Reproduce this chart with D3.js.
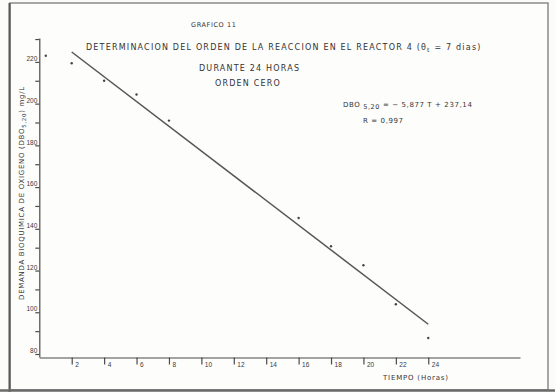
<!DOCTYPE html>
<html>
  <head>
    <meta charset="utf-8">
    <title>Grafico 11</title>
    <script src="https://d3js.org/d3.v7.min.js"></script>
    <style>
      body { margin: 0; background: #fbfbf9; }
      svg { display: block; font-family: "DejaVu Sans", sans-serif; }
      .axis path, .axis line { stroke: #4a4a4a; stroke-width: 1.2; }
      .axis text { fill: #3a3a3a; font-size: 6.5px; }
      .lbl { fill: #333; font-size: 8px; letter-spacing: 1.2px; }
    </style>
  </head>
  <body>
    <svg id="chart" width="555" height="392"></svg>
    <script>
      // data
      var hours = [0.4, 2, 4, 6, 8, 16, 18, 20, 22, 24];
      var dbo = [222, 218.4, 210, 203.4, 190.9, 144.2, 130.7, 121.6, 102.9, 86.7];
      // fitted line as drawn (endpoints)
      var lineHours = [2, 24];
      var lineDbo = [223.8, 93.3];
      var xTicks = [2, 4, 6, 8, 10, 12, 14, 16, 18, 20, 22, 24];
      var yTicks = [80, 90, 100, 110, 120, 130, 140, 150, 160, 170, 180, 190, 200, 210, 220, 230];

      var svg = d3.select("#chart");

      // paper frame
      svg.append("rect")
        .attr("x", 10).attr("y", 3)
        .attr("width", 538).attr("height", 387)
        .attr("fill", "#fdfdfc")
        .attr("stroke", "#8a8a8a")
        .attr("stroke-width", 1.5);
      svg.append("line")
        .attr("x1", 9.5).attr("x2", 9.5)
        .attr("y1", 3).attr("y2", 392)
        .attr("stroke", "#555").attr("stroke-width", 2);
      svg.append("line")
        .attr("x1", 0).attr("x2", 555)
        .attr("y1", 390.5).attr("y2", 390.5)
        .attr("stroke", "#6a6a6a").attr("stroke-width", 2.5);

      var x = d3.scaleLinear().domain([0, 29.66]).range([39.3, 520]);
      var y = d3.scaleLinear().domain([77.6, 230.5]).range([357, 38]);

      var yAxis = d3.axisLeft(y)
        .tickValues(yTicks)
        .tickSize(4)
        .tickSizeOuter(0)
        .tickFormat(function(d) { return d % 20 == 0 && d < 230 ? d : ""; });
      var yg = svg.append("g")
        .attr("class", "axis")
        .attr("transform", "translate(39.3,0)")
        .call(yAxis);
      yg.selectAll("text").attr("x", -2).attr("dy", "0.1em");
      yg.selectAll(".tick line").attr("stroke-width", 0.8)
        .attr("transform", function(d) { return d % 20 == 0 ? "translate(0,2)" : null; });

      var xAxis = d3.axisBottom(x)
        .tickValues(xTicks)
        .tickSize(7)
        .tickSizeOuter(0);
      var xg = svg.append("g")
        .attr("class", "axis")
        .attr("transform", "translate(0,357.5)")
        .call(xAxis);
      xg.selectAll("text")
        .attr("text-anchor", "start")
        .attr("x", 3)
        .attr("y", 5)
        .attr("dy", "0.7em");
      xg.selectAll(".tick line").attr("stroke-width", 0.9);

      // regression line
      var lineData = lineHours.map(function(h, i) { return { t: h, v: lineDbo[i] }; });
      svg.append("path")
        .datum(lineData)
        .attr("fill", "none")
        .attr("stroke", "#555")
        .attr("stroke-width", 1.5)
        .attr("d", d3.line()
          .x(function(d) { return x(d.t); })
          .y(function(d) { return y(d.v); }));

      // observed points
      svg.selectAll(".pt")
        .data(hours.map(function(h, i) { return { t: h, v: dbo[i] }; }))
        .enter().append("circle")
          .attr("class", "pt")
          .attr("cx", function(d) { return x(d.t); })
          .attr("cy", function(d) { return y(d.v); })
          .attr("r", 1.2)
          .attr("fill", "#444");

      // titles
      function label(txt, px, py, size, anchor) {
        return svg.append("text")
          .attr("class", "lbl")
          .attr("x", px).attr("y", py)
          .attr("text-anchor", anchor || "start")
          .style("font-size", size + "px")
          .text(txt);
      }
      label("GRAFICO 11", 191, 27, 6.5).style("letter-spacing", "0.6px");
      var t = label("DETERMINACION DEL ORDEN  DE LA REACCION EN EL REACTOR 4 (", 86, 50, 8);
      t.append("tspan").text("θ");
      t.append("tspan").attr("dy", 2).style("font-size", "6px").text("t");
      t.append("tspan").attr("dy", -2).text(" = 7 dias)");
      label("DURANTE 24 HORAS", 199, 71, 8);
      label("ORDEN CERO", 215, 86, 8);

      var eq = label("DBO ", 343, 107, 7).style("letter-spacing", "0.6px");
      eq.append("tspan").attr("dy", 1.5).style("font-size", "6.5px").text("5,20");
      eq.append("tspan").attr("dy", -1.5).text(" =  − 5,877  T  +  237,14");
      label("R = 0,997", 363, 123, 7).style("letter-spacing", "0.6px");

      label("TIEMPO (Horas)", 383, 380, 7).style("letter-spacing", "0.8px");

      var yl = svg.append("text")
        .attr("class", "lbl")
        .attr("transform", "translate(24,193) rotate(-90)")
        .attr("text-anchor", "middle")
        .style("font-size", "7px")
        .style("letter-spacing", "0.7px")
        .text("DEMANDA BIOQUIMICA DE OXIGENO  (DBO");
      yl.append("tspan").attr("dy", 1.5).style("font-size", "5.5px").text("5,20");
      yl.append("tspan").attr("dy", -1.5).text(") mg/L");
    </script>
  </body>
</html>
